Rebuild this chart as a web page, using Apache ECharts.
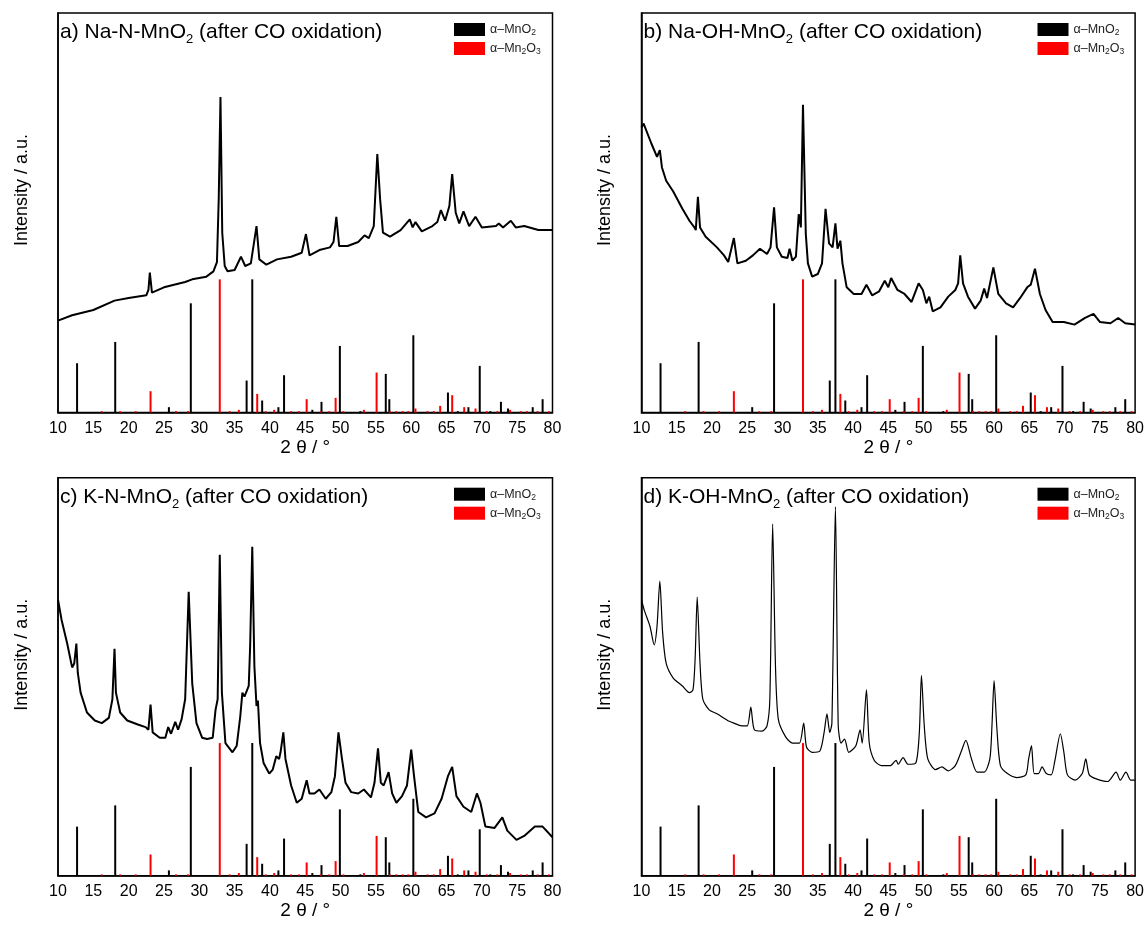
<!DOCTYPE html>
<html>
<head>
<meta charset="utf-8">
<script src="https://cdn.jsdelivr.net/npm/echarts@6/dist/echarts.min.js"></script>
<style>html,body{margin:0;background:#fff}#chart{width:1147px;height:925px}</style>
</head>
<body>
<div id="chart"></div>
<script>
// reference sticks (same in every panel), intensity in % of strongest line
var mno2Pos = [12.7, 18.1, 25.7, 28.8, 36.7, 37.5, 38.9, 41.2, 42.0, 46.0, 47.3, 49.9, 52.8, 56.4, 56.9, 60.3, 65.2, 66.6, 68.1, 69.7, 71.2, 72.7, 73.7, 77.2, 78.6];
var mno2Int = [37, 53, 4, 82, 24, 100, 9, 4, 28, 2, 8, 50, 1, 29, 10, 58, 15, 1, 4, 35, 1, 8, 3, 4, 10];
var mn2o3Pos = [16.2, 18.8, 21.0, 23.1, 26.7, 28.4, 32.9, 34.3, 35.6, 38.2, 39.4, 40.6, 43.0, 44.1, 45.2, 47.2, 48.4, 49.3, 50.4, 53.3, 55.1, 57.0, 57.9, 58.8, 59.6, 60.6, 62.3, 63.2, 64.1, 65.8, 67.5, 69.1, 70.7, 72.2, 74.0, 75.5, 76.4, 77.9, 79.5];
var mn2o3Int = [1, 1, 1, 16, 1, 1, 100, 1, 2, 14, 1, 2, 1, 1, 10, 1, 1, 11, 1, 2, 30, 1, 1, 1, 1, 3, 1, 1, 5, 13, 4, 3, 1, 1, 2, 1, 1, 1, 1];

// a) Na-N-MnO2
var aX = [10, 12, 15, 18, 20, 22.5, 22.8, 23.0, 23.3, 25, 28, 29, 31, 32, 32.5, 32.75, 33.0, 33.25, 33.6, 34, 35, 35.9, 36.5, 37.3, 38.1, 38.5, 39.5, 41, 43, 44.5, 45.1, 45.6, 47, 48.5, 49.0, 49.4, 49.8, 51, 52.5, 53.4, 54, 54.7, 55.2, 55.6, 56, 57, 58.5, 59.8, 60.2, 60.6, 61.5, 63, 63.7, 64.2, 64.8, 65.4, 65.8, 66.3, 66.8, 67.4, 68.2, 69.1, 70, 72, 72.4, 73, 74.1, 74.8, 76, 78, 80];
var aY = [69, 73, 77, 84, 86, 88, 92, 105, 90, 94, 98, 100, 102, 106, 113, 160, 237, 135, 110, 106, 107, 117, 110, 112, 140, 115, 111, 115, 117, 120, 134, 118, 122, 124, 128, 147, 125, 125, 128, 133, 131, 140, 194, 160, 135, 132, 137, 145, 139, 143, 136, 140, 143, 152, 144, 155, 179, 150, 142, 151, 140, 147, 139, 140, 142, 139, 144, 139, 140, 137, 137];

// b) Na-OH-MnO2
var bX = [10, 10.3, 11.4, 12.2, 12.6, 12.9, 13.5, 14.5, 15.8, 16.8, 17.5, 17.7, 18.0, 18.3, 19.1, 20.7, 21.7, 22.3, 23.1, 23.6, 24.8, 25.8, 26.8, 27.8, 28.3, 28.8, 29.2, 29.9, 30.7, 31.0, 31.4, 31.9, 32.3, 32.6, 32.9, 33.3, 33.6, 34.2, 35.0, 35.6, 36.1, 36.6, 37.1, 37.5, 37.8, 38.2, 38.5, 39.1, 40.1, 41.2, 41.9, 42.7, 43.7, 44.5, 45.0, 45.4, 46.3, 47.3, 48.3, 49.3, 49.9, 50.4, 50.8, 51.3, 52.4, 53.5, 54.5, 54.9, 55.2, 55.6, 56.3, 57.3, 58.1, 58.6, 59.0, 59.9, 60.6, 61.7, 62.7, 63.7, 64.7, 65.2, 65.8, 66.5, 67.3, 68.3, 69.9, 71.4, 72.9, 74.1, 75.0, 76.5, 77.6, 78.6, 80];
var bY = [214, 217, 202, 192, 197, 184, 174, 166, 153, 144, 139, 137, 162, 139, 132, 124, 118, 113, 131, 112, 114, 118, 123, 119, 124, 154, 124, 117, 116, 123, 114, 117, 149, 139, 231, 134, 112, 102, 104, 112, 153, 127, 124, 142, 123, 129, 112, 94, 89, 89, 96, 88, 91, 99, 94, 101, 92, 89, 83, 97, 92, 82, 87, 76, 79, 87, 92, 97, 118, 97, 87, 78, 84, 93, 86, 109, 89, 82, 79, 86, 94, 96, 108, 89, 77, 68, 68, 66, 71, 74, 68, 67, 71, 67, 66];

// c) K-N-MnO2
var cX = [10, 10.5, 11.3, 12.0, 12.3, 12.6, 12.8, 13.2, 14.1, 15.2, 16.2, 17.2, 17.7, 18.0, 18.2, 18.8, 19.8, 21.3, 22.4, 22.8, 23.1, 23.4, 24.4, 25.2, 25.6, 26.0, 26.6, 27.0, 27.5, 28.0, 28.5, 29.0, 29.6, 30.4, 31.1, 31.9, 32.3, 32.6, 32.9, 33.2, 33.7, 34.7, 35.3, 35.8, 36.1, 36.4, 37.0, 37.2, 37.5, 37.8, 38.1, 38.3, 38.6, 39.1, 39.9, 40.4, 40.9, 41.3, 41.5, 41.9, 42.2, 43.0, 43.8, 44.5, 45.2, 45.6, 46.3, 47.0, 47.9, 48.7, 49.2, 49.7, 50.2, 50.7, 51.5, 52.5, 53.3, 54.3, 54.8, 55.3, 55.7, 56.1, 56.8, 57.3, 57.9, 58.7, 59.4, 60.0, 60.4, 61.0, 62.1, 63.3, 64.3, 65.2, 65.8, 66.4, 67.4, 68.5, 69.3, 69.8, 70.5, 71.8, 72.9, 73.6, 74.9, 76.0, 77.5, 78.6, 80];
var cY = [208, 193, 175, 157, 160, 175, 153, 138, 123, 117, 115, 119, 133, 171, 138, 123, 117, 114, 112, 110, 129, 108, 104, 104, 112, 107, 116, 110, 118, 133, 214, 145, 115, 104, 103, 104, 125, 133, 242, 138, 100, 93, 98, 120, 138, 135, 143, 173, 248, 158, 128, 132, 100, 85, 77, 80, 90, 88, 93, 108, 88, 68, 55, 58, 72, 62, 62, 65, 58, 63, 75, 108, 88, 70, 63, 62, 65, 59, 70, 96, 70, 68, 78, 62, 55, 60, 68, 95, 75, 48, 44, 47, 58, 75, 82, 60, 52, 48, 62, 55, 37, 36, 44, 34, 27, 30, 37, 37, 29];

// d) K-OH-MnO2
var dX = [10, 10.4, 11.2, 11.8, 12.2, 12.6, 13.0, 13.5, 14.5, 15.8, 16.8, 17.3, 17.6, 17.9, 18.3, 18.7, 19.6, 20.7, 22.2, 23.1, 24.2, 25.0, 25.5, 26.0, 27.1, 27.8, 28.2, 28.6, 29.0, 29.4, 30.4, 31.4, 32.4, 33.0, 33.4, 34.2, 35.3, 35.9, 36.3, 36.7, 37.0, 37.5, 37.9, 38.3, 38.8, 39.4, 40.4, 41.0, 41.3, 41.9, 42.3, 43.0, 44.0, 45.3, 46.1, 46.4, 47.1, 47.8, 48.9, 49.4, 49.7, 50.1, 50.6, 51.7, 52.6, 53.5, 54.5, 55.3, 56.0, 56.8, 57.6, 58.6, 59.4, 59.7, 60.0, 60.4, 60.9, 61.9, 63.2, 64.5, 64.9, 65.3, 65.7, 66.3, 66.8, 67.4, 68.1, 68.6, 69.4, 69.9, 70.4, 71.5, 72.5, 73.0, 73.5, 74.5, 76.1, 77.3, 77.9, 78.7, 79.4, 80];
var dY = [208, 200, 188, 174, 188, 222, 183, 160, 149, 143, 138, 140, 163, 210, 160, 133, 125, 122, 117, 115, 113, 113, 127, 110, 109, 113, 133, 265, 158, 118, 105, 100, 100, 115, 97, 93, 94, 108, 122, 108, 115, 278, 113, 100, 103, 93, 98, 110, 100, 140, 100, 87, 83, 83, 87, 84, 89, 84, 85, 108, 151, 113, 88, 80, 82, 79, 83, 93, 102, 88, 78, 78, 88, 113, 147, 111, 83, 77, 74, 76, 88, 98, 77, 77, 82, 77, 76, 86, 107, 93, 76, 72, 77, 88, 76, 73, 71, 78, 72, 78, 72, 72];

var FONT = 'Liberation Sans, Arial, sans-serif';

function zip(xs, ys) {
    return xs.map(function (x, i) { return [x, ys[i]]; });
}

var panels = [
    {pre: 'a) Na-N-MnO', x: aX, y: aY, lw: 2, left: 58, top: 13, w: 494.5, h: 399.5},
    {pre: 'b) Na-OH-MnO', x: bX, y: bY, lw: 2, left: 641.5, top: 13, w: 495, h: 399.5},
    {pre: 'c) K-N-MnO', x: cX, y: cY, lw: 2, left: 58, top: 477.7, w: 494.5, h: 398},
    {pre: 'd) K-OH-MnO', x: dX, y: dY, lw: 1.2, left: 641.5, top: 477.7, w: 495, h: 398}
];

var grid = [], xAxis = [], yAxis = [], series = [], title = [], legend = [], graphic = [];

panels.forEach(function (p, i) {
    grid.push({left: p.left, top: p.top, width: p.w, height: p.h, show: true,
        borderColor: '#000', borderWidth: 1.5, backgroundColor: '#fff'});
    xAxis.push({
        gridIndex: i, type: 'value', min: 10, max: 80, interval: 5,
        name: '2 θ / °', nameLocation: 'middle', nameGap: 26,
        nameTextStyle: {fontFamily: FONT, fontSize: 19, color: '#000'},
        axisLine: {lineStyle: {color: '#000', width: 1.5}},
        axisTick: {show: false},
        axisLabel: {fontFamily: FONT, fontSize: 16, color: '#000', margin: 8},
        splitLine: {show: false}
    });
    yAxis.push({
        gridIndex: i, type: 'value', min: 0, max: 300,
        axisLine: {show: true, lineStyle: {color: '#000', width: 1.5}},
        axisTick: {show: false}, axisLabel: {show: false}, splitLine: {show: false}
    });
    // y axis title, sits a bit above the middle of the frame
    graphic.push({
        type: 'text', x: p.left - 36, y: p.top + 177, rotation: Math.PI / 2,
        style: {text: 'Intensity / a.u.', font: '18px ' + FONT, fill: '#000',
            align: 'center', verticalAlign: 'middle'}
    });
    title.push({
        left: p.left + 2, top: p.top + 6, padding: 0,
        text: '{t|' + p.pre + '}{s|2}{t| (after CO oxidation)}',
        textStyle: {rich: {
            t: {fontFamily: FONT, fontSize: 21, fontWeight: 'normal', color: '#000', lineHeight: 27},
            s: {fontFamily: FONT, fontSize: 13, fontWeight: 'normal', color: '#000', lineHeight: 13, verticalAlign: 'bottom'}
        }}
    });
    legend.push({
        left: p.left + 396, top: p.top + 10, orient: 'vertical', padding: 0,
        itemWidth: 31, itemHeight: 13, itemGap: 4.5, icon: 'rect',
        data: ['α-MnO2', 'α-Mn2O3'],
        formatter: function (n) {
            return n === 'α-MnO2' ? '{t|α–MnO}{s|2}' : '{t|α–Mn}{s|2}{t|O}{s|3}';
        },
        textStyle: {rich: {
            t: {fontFamily: FONT, fontSize: 12.5, color: '#222', lineHeight: 16},
            s: {fontFamily: FONT, fontSize: 8.5, color: '#222', lineHeight: 8, verticalAlign: 'bottom'}
        }}
    });
    series.push({
        type: 'bar', name: 'α-MnO2', xAxisIndex: i, yAxisIndex: i,
        barWidth: 2, barGap: '-100%', itemStyle: {color: '#000'},
        data: zip(mno2Pos, mno2Int), z: 2
    });
    series.push({
        type: 'bar', name: 'α-Mn2O3', xAxisIndex: i, yAxisIndex: i,
        barWidth: 2, barGap: '-100%', itemStyle: {color: '#ff0000'},
        data: zip(mn2o3Pos, mn2o3Int), z: 2
    });
    series.push({
        type: 'line', name: 'xrd' + i, xAxisIndex: i, yAxisIndex: i,
        data: zip(p.x, p.y), showSymbol: false, smooth: i === 3 ? 0.25 : false,
        lineStyle: {color: '#000', width: p.lw}, z: 3
    });
});

var chart = echarts.init(document.getElementById('chart'), null, {renderer: 'canvas'});
chart.setOption({
    animation: false,
    backgroundColor: '#fff',
    title: title,
    legend: legend,
    grid: grid,
    xAxis: xAxis,
    yAxis: yAxis,
    graphic: graphic,
    series: series
});
</script>
</body>
</html>
